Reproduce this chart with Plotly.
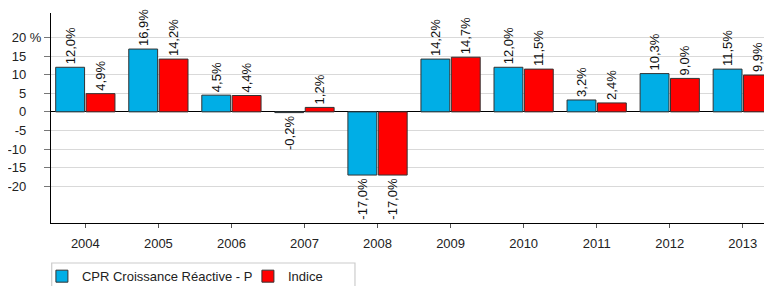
import plotly.graph_objects as go

years = ["2004", "2005", "2006", "2007", "2008", "2009", "2010", "2011", "2012", "2013"]
fund_name = "CPR Croissance Réactive - P"
fund_values = [12.0, 16.9, 4.5, -0.2, -17.0, 14.2, 12.0, 3.2, 10.3, 11.5]
index_name = "Indice"
index_values = [4.9, 14.2, 4.4, 1.2, -17.0, 14.7, 11.5, 2.4, 9.0, 9.9]
y_tick_values = [-20, -15, -10, -5, 0, 5, 10, 15, 20]


def fmt(v):
    return f"{v:.1f}%".replace(".", ",")


ghost = "<span style='color:rgba(0,0,0,0)'> %</span>"
y_tick_text = [f"{v} %" if v == 20 else f"{v}{ghost}" for v in y_tick_values]

FONT = "Arial, Liberation Sans, sans-serif"

fig = go.Figure()
for name, vals, color in [(fund_name, fund_values, "#00AEE6"), (index_name, index_values, "#FF0000")]:
    fig.add_trace(go.Bar(
        x=years, y=vals, name=name,
        marker=dict(color=color, line=dict(color="#333333", width=1)),
        text=[fmt(v) for v in vals],
        textposition="outside", textangle=-90, constraintext="none",
        textfont=dict(family=FONT, size=13, color="#111111"),
        cliponaxis=False,
    ))

# legend frame (drawn as a shape so its width can follow the reference)
fig.add_shape(
    type="rect", xref="paper", yref="paper",
    x0=0.001, x1=0.4216, y0=-0.1905, y1=-0.35,
    line=dict(color="#cccccc", width=1.2),
    layer="above",
)

# page body has an 8px default margin; figure sized/offset to compensate
fig.update_layout(
    width=764, height=278,
    margin=dict(l=43, r=0, t=5, b=63, autoexpand=False),
    paper_bgcolor="white", plot_bgcolor="white",
    barmode="group", bargap=0.168, bargroupgap=0.05,
    font=dict(family=FONT, size=13, color="#222222"),
    showlegend=True,
    legend=dict(
        orientation="h", x=-0.0126, xanchor="left", y=-0.182, yanchor="top",
        borderwidth=0, bgcolor="rgba(0,0,0,0)",
        font=dict(family=FONT, size=13, color="#222222"),
        entrywidth=161, entrywidthmode="pixels",
        traceorder="normal",
    ),
    xaxis=dict(
        type="category", range=[-0.47, 9.40],
        showgrid=False, showline=True, linecolor="black", linewidth=1,
        ticks="outside", ticklen=4, tickcolor="#555555",
        ticklabelstandoff=4,
        tickfont=dict(family=FONT, size=13, color="#222222"),
        fixedrange=True,
    ),
    yaxis=dict(
        range=[-29.9, 26.6],
        tickvals=y_tick_values, ticktext=y_tick_text,
        showgrid=True, gridcolor="#d9d9d9", gridwidth=1,
        zeroline=True, zerolinecolor="black", zerolinewidth=1,
        showline=True, linecolor="black", linewidth=1,
        ticks="outside", ticklen=6, tickcolor="#777777",
        tickfont=dict(family=FONT, size=13, color="#222222"),
        fixedrange=True,
    ),
)

fig.write_html("out.html")
